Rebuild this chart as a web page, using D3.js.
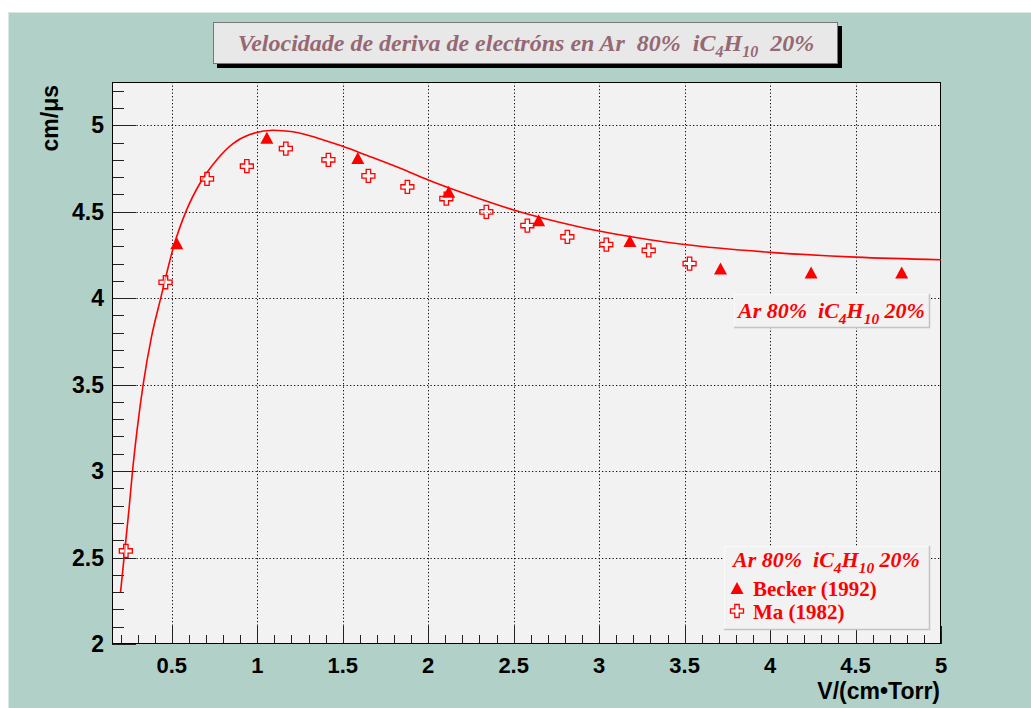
<!DOCTYPE html>
<html><head><meta charset="utf-8">
<script src="https://cdn.jsdelivr.net/npm/d3@7"></script>
<style>
html,body{margin:0;padding:0;background:#ffffff;}
svg{display:block;}
text{white-space:pre;}
</style></head>
<body>
<svg id="chart" width="1031" height="708"></svg>
<script>
// ---- data ----
const beckerX = [0.529, 1.056, 1.588, 2.12, 2.646, 3.18, 3.71, 4.24, 4.77];
const beckerY = [4.312, 4.922, 4.805, 4.61, 4.445, 4.325, 4.165, 4.142, 4.142];
const maX = [0.231, 0.463, 0.706, 0.939, 1.167, 1.416, 1.65, 1.878, 2.106, 2.34, 2.58, 2.814, 3.042, 3.29, 3.529];
const maY = [2.538, 4.092, 4.69, 4.763, 4.865, 4.80, 4.707, 4.643, 4.576, 4.499, 4.42, 4.354, 4.31, 4.276, 4.20];
const fitX = [0.2, 0.225, 0.249, 0.270, 0.299, 0.332, 0.381, 0.435, 0.469, 0.508, 0.586, 0.664, 0.761, 0.858, 0.956, 1.092, 1.209, 1.346, 1.50, 1.639, 1.833, 2.0, 2.30, 2.50, 2.886, 3.0, 3.295, 3.5, 4.0, 4.5, 5.0];
const fitY = [2.30, 2.543, 2.775, 3.0, 3.256, 3.499, 3.776, 4.0, 4.14, 4.29, 4.509, 4.663, 4.798, 4.894, 4.946, 4.971, 4.962, 4.928, 4.878, 4.826, 4.752, 4.683, 4.575, 4.51, 4.412, 4.388, 4.338, 4.31, 4.265, 4.237, 4.222];
const xTicks = [0.5, 1, 1.5, 2, 2.5, 3, 3.5, 4, 4.5, 5];
const xTickLabels = ["0.5", "1", "1.5", "2", "2.5", "3", "3.5", "4", "4.5", "5"];
const yTicks = [2, 2.5, 3, 3.5, 4, 4.5, 5];
const yTickLabels = ["2", "2.5", "3", "3.5", "4", "4.5", "5"];
const legendEntries = ["Becker (1992)", "Ma (1982)"];

// ---- layout ----
const W = 1031, H = 708;
const fL = 112, fR = 941, fT = 82, fB = 644;
const red = "#ff0000";
const svg = d3.select("#chart");

svg.append("rect").attr("x", 8).attr("y", 12).attr("width", W - 8).attr("height", H - 12).attr("fill", "#b0d0c8");
svg.append("path").attr("d", `M8.5,${H}V12.5H${W}`).attr("fill", "none").attr("stroke", "#d6e8e3").attr("stroke-width", 1);

const x = d3.scaleLinear().domain([0.15, 5]).range([fL, fR]);
const y = d3.scaleLinear().domain([2, 5.25]).range([fB, fT]);

svg.append("rect").attr("x", fL).attr("y", fT).attr("width", fR - fL).attr("height", fB - fT).attr("fill", "#f2f2f2");

// grid
const grid = svg.append("g").attr("stroke", "#111").attr("stroke-width", 1).attr("stroke-dasharray", "1.3,2.2");
xTicks.filter(v => v < 5).forEach(v => {
  grid.append("line").attr("x1", Math.round(x(v)) + 0.5).attr("x2", Math.round(x(v)) + 0.5).attr("y1", fT).attr("y2", fB);
});
yTicks.filter(v => v > 2).forEach(v => {
  grid.append("line").attr("y1", Math.round(y(v)) + 0.5).attr("y2", Math.round(y(v)) + 0.5).attr("x1", fL).attr("x2", fR);
});

// axes ticks (inside)
const ax = svg.append("g").attr("stroke", "#222").attr("stroke-width", 1);
d3.range(2, 51).map(i => i / 10).forEach(v => {
  const major = Math.abs(v * 2 - Math.round(v * 2)) < 1e-6;
  const px = Math.round(x(v)) + 0.5;
  ax.append("line").attr("x1", px).attr("x2", px).attr("y1", fB).attr("y2", fB - (major ? 18 : 9));
});
d3.range(20, 53).map(i => i / 10).forEach(v => {
  const major = Math.abs(v * 2 - Math.round(v * 2)) < 1e-6;
  const py = Math.round(y(v)) + 0.5;
  ax.append("line").attr("x1", fL).attr("x2", fL + (major ? 24 : 12)).attr("y1", py).attr("y2", py);
});

// frame
svg.append("rect").attr("x", fL + 0.5).attr("y", fT + 0.5).attr("width", fR - fL - 1).attr("height", fB - fT - 1)
  .attr("fill", "none").attr("stroke", "#000").attr("stroke-width", 1);

// tick labels
const tf = "'Liberation Sans', Arial, sans-serif";
svg.append("g").selectAll("text").data(xTicks).join("text")
  .attr("x", d => x(d)).attr("y", 673).attr("text-anchor", "middle")
  .attr("font-family", tf).attr("font-weight", "bold").attr("font-size", 22).attr("fill", "#000")
  .text((d, i) => xTickLabels[i]);
svg.append("g").selectAll("text").data(yTicks).join("text")
  .attr("x", 104).attr("y", d => y(d) + 8).attr("text-anchor", "end")
  .attr("font-family", tf).attr("font-weight", "bold").attr("font-size", 23).attr("fill", "#000")
  .text((d, i) => yTickLabels[i]);

svg.append("text").attr("x", 940).attr("y", 699).attr("text-anchor", "end")
  .attr("font-family", tf).attr("font-weight", "bold").attr("font-size", 23).attr("fill", "#000")
  .text("V/(cm•Torr)");
svg.append("text").attr("transform", "translate(58,85) rotate(-90)").attr("text-anchor", "end")
  .attr("font-family", tf).attr("font-weight", "bold").attr("font-size", 23).attr("fill", "#000")
  .text("cm/μs");

// clip
svg.append("clipPath").attr("id", "clip").append("rect").attr("x", fL).attr("y", fT).attr("width", fR - fL).attr("height", fB - fT);
const plot = svg.append("g").attr("clip-path", "url(#clip)");

const line = d3.line().x(d => x(d[0])).y(d => y(d[1])).curve(d3.curveMonotoneX);
plot.append("path").datum(fitX.map((v, i) => [v, fitY[i]])).attr("d", line)
  .attr("fill", "none").attr("stroke", red).attr("stroke-width", 1.6);

const triPath = "M0,-7L6.5,5L-6.5,5Z";
const a = 2.2, b = 6.5;
const crossPath = `M${-a},${-b}H${a}V${-a}H${b}V${a}H${a}V${b}H${-a}V${a}H${-b}V${-a}H${-a}Z`;

plot.append("g").selectAll("path").data(maX.map((v, i) => [v, maY[i]])).join("path")
  .attr("transform", d => `translate(${x(d[0])},${y(d[1])})`).attr("d", crossPath)
  .attr("fill", "#fff").attr("fill-opacity", 0.5).attr("stroke", red).attr("stroke-width", 1.3);
plot.append("g").selectAll("path").data(beckerX.map((v, i) => [v, beckerY[i]])).join("path")
  .attr("transform", d => `translate(${x(d[0])},${y(d[1])})`).attr("d", triPath)
  .attr("fill", red);

// text helper for formula label
const sf = "'Liberation Serif', 'Times New Roman', serif";
function formula(t, size) {
  t.append("tspan").text("Ar 80%  iC");
  t.append("tspan").attr("font-size", size * 0.7).attr("dy", 6).text("4");
  t.append("tspan").attr("dy", -6).text("H");
  t.append("tspan").attr("font-size", size * 0.7).attr("dy", 6).text("10");
  t.append("tspan").attr("dy", -6).text(" 20%");
}

function box(x0, y0, w, h) {
  svg.append("rect").attr("x", x0).attr("y", y0).attr("width", w).attr("height", h).attr("fill", "#f2f2f2");
  svg.append("path").attr("d", `M${x0 + 0.5},${y0 + h}V${y0 + 0.5}H${x0 + w}`).attr("fill", "none").attr("stroke", "#fafafa");
  svg.append("path").attr("d", `M${x0 + w - 0.5},${y0}V${y0 + h - 0.5}H${x0}`).attr("fill", "none").attr("stroke", "#c4c4c4").attr("stroke-width", 1.5);
}
// upper label
box(734, 294, 196, 34);
const t1 = svg.append("text").attr("x", 738).attr("y", 318)
  .attr("font-family", sf).attr("font-style", "italic").attr("font-weight", "bold").attr("font-size", 22).attr("fill", red);
formula(t1, 22);

// legend
box(724, 546, 206, 84);
const t2 = svg.append("text").attr("x", 733).attr("y", 567)
  .attr("font-family", sf).attr("font-style", "italic").attr("font-weight", "bold").attr("font-size", 22).attr("fill", red);
formula(t2, 22);
svg.append("path").attr("transform", "translate(737,589)").attr("d", triPath).attr("fill", red);
svg.append("path").attr("transform", "translate(737,611)").attr("d", crossPath).attr("fill", "#fff").attr("stroke", red).attr("stroke-width", 1.3);
legendEntries.forEach((s, i) => {
  svg.append("text").attr("x", 753).attr("y", 596 + i * 23)
    .attr("font-family", sf).attr("font-weight", "bold").attr("font-size", 21).attr("fill", red).text(s);
});

// title
svg.append("rect").attr("x", 217).attr("y", 26).attr("width", 625).attr("height", 42).attr("fill", "#000");
svg.append("rect").attr("x", 213.5).attr("y", 22.5).attr("width", 624).attr("height", 41).attr("fill", "#e8e8e8").attr("stroke", "#777").attr("stroke-width", 1);
const tt = svg.append("text").attr("x", 526).attr("y", 51).attr("text-anchor", "middle")
  .attr("font-family", sf).attr("font-style", "italic").attr("font-weight", "bold").attr("font-size", 24).attr("fill", "#966873");
tt.append("tspan").text("Velocidade de deriva de electróns en Ar  80%  iC");
tt.append("tspan").attr("font-size", 16).attr("dy", 6).text("4");
tt.append("tspan").attr("dy", -6).text("H");
tt.append("tspan").attr("font-size", 16).attr("dy", 6).text("10");
tt.append("tspan").attr("dy", -6).text("  20%");
</script>
</body></html>
